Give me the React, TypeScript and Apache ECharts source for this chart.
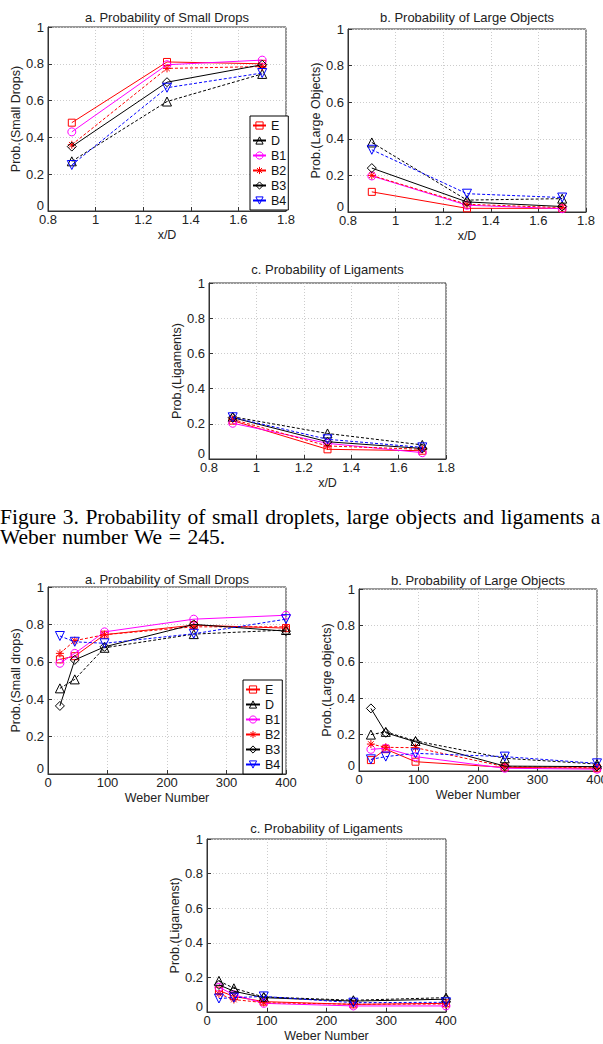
import React, { useEffect, useRef } from 'react';
import * as echarts from 'echarts';

// ---------- data ----------
const SERIES_NAMES = ['E', 'D', 'B1', 'B2', 'B3', 'B4'];
const XD_POSITIONS = [0.9, 1.3, 1.7];
const WEBER_NUMBERS = [20, 45, 95, 245, 400];

// rows follow SERIES_NAMES order: E, D, B1, B2, B3, B4
const smallDropsXD = [
  [0.48, 0.81, 0.8],
  [0.27, 0.595, 0.745],
  [0.43, 0.795, 0.82],
  [0.36, 0.775, 0.785],
  [0.35, 0.7, 0.795],
  [0.25, 0.67, 0.75],
];
const largeObjectsXD = [
  [0.11, 0.02, 0.02],
  [0.38, 0.065, 0.073],
  [0.197, 0.037, 0.018],
  [0.2, 0.042, 0.024],
  [0.24, 0.055, 0.03],
  [0.34, 0.1, 0.079],
];
const ligamentsXD = [
  [0.218, 0.055, 0.047],
  [0.24, 0.145, 0.08],
  [0.203, 0.089, 0.036],
  [0.225, 0.074, 0.055],
  [0.235, 0.098, 0.06],
  [0.237, 0.112, 0.066],
];
const smallDropsWe = [
  [0.613, 0.63, 0.745, 0.796, 0.78],
  [0.458, 0.506, 0.675, 0.748, 0.77],
  [0.592, 0.645, 0.76, 0.828, 0.849],
  [0.645, 0.713, 0.745, 0.787, 0.787],
  [0.364, 0.61, 0.68, 0.8, 0.764],
  [0.738, 0.707, 0.699, 0.75, 0.828],
];
const largeObjectsWe = [
  [0.06, 0.12, 0.051, 0.02, 0.015],
  [0.2, 0.215, 0.165, 0.07, 0.038],
  [0.119, 0.125, 0.079, 0.015, 0.01],
  [0.148, 0.13, 0.128, 0.024, 0.018],
  [0.344, 0.21, 0.16, 0.027, 0.024],
  [0.064, 0.079, 0.097, 0.079, 0.042],
];
const ligamentsWe = [
  [0.124, 0.09, 0.06, 0.044, 0.05],
  [0.18, 0.137, 0.087, 0.068, 0.083],
  [0.143, 0.1, 0.05, 0.035, 0.035],
  [0.105, 0.072, 0.054, 0.045, 0.046],
  [0.157, 0.12, 0.083, 0.063, 0.074],
  [0.078, 0.083, 0.09, 0.054, 0.056],
];

// ---------- styles ----------
const STAR = 'path://M5,0L5,10M0,5L10,5M1.5,1.5L8.5,8.5M1.5,8.5L8.5,1.5';
const SERIES_STYLE = [
  { color: '#ff0000', symbol: 'rect', size: 7, rotate: 0, dashed: false },
  { color: '#000000', symbol: 'triangle', size: 9, rotate: 0, dashed: true },
  { color: '#ff00ff', symbol: 'circle', size: 8, rotate: 0, dashed: false },
  { color: '#ff0000', symbol: STAR, size: 8, rotate: 0, dashed: true },
  { color: '#000000', symbol: 'diamond', size: 9, rotate: 0, dashed: false },
  { color: '#0000ff', symbol: 'triangle', size: 9, rotate: 180, dashed: true },
];

const FONT = '"Liberation Sans", Arial, Helvetica, sans-serif';

const PANELS = [
  { data: smallDropsXD, xs: XD_POSITIONS, grid: { left: 48, top: 27, width: 238, height: 184 }, xmin: 0.8, xmax: 1.8, xint: 0.2, xname: 'x/D', yname: 'Prob.(Small Drops)', title: 'a. Probability of Small Drops', titleY: 17 },
  { data: largeObjectsXD, xs: XD_POSITIONS, grid: { left: 348, top: 29, width: 238, height: 183 }, xmin: 0.8, xmax: 1.8, xint: 0.2, xname: 'x/D', yname: 'Prob.(Large Objects)', title: 'b. Probability of Large Objects', titleY: 17 },
  { data: ligamentsXD, xs: XD_POSITIONS, grid: { left: 209, top: 283, width: 237, height: 176 }, xmin: 0.8, xmax: 1.8, xint: 0.2, xname: 'x/D', yname: 'Prob.(Ligaments)', title: 'c. Probability of Ligaments', titleY: 269 },
  { data: smallDropsWe, xs: WEBER_NUMBERS, grid: { left: 48, top: 587, width: 238, height: 187 }, xmin: 0, xmax: 400, xint: 100, xname: 'Weber Number', yname: 'Prob.(Small drops)', title: 'a. Probability of Small Drops', titleY: 579 },
  { data: largeObjectsWe, xs: WEBER_NUMBERS, grid: { left: 359, top: 589, width: 238, height: 182 }, xmin: 0, xmax: 400, xint: 100, xname: 'Weber Number', yname: 'Prob.(Large objects)', title: 'b. Probability of Large Objects', titleY: 580 },
  { data: ligamentsWe, xs: WEBER_NUMBERS, grid: { left: 207, top: 839, width: 239, height: 173 }, xmin: 0, xmax: 400, xint: 100, xname: 'Weber Number', yname: 'Prob.(Ligamenst)', title: 'c. Probability of Ligaments', titleY: 828 },
];

function buildOption() {
  const AX = '#333';
  const grids: any[] = [];
  const xAxes: any[] = [];
  const yAxes: any[] = [];
  const series: any[] = [];
  const graphics: any[] = [];
  PANELS.forEach((p, pi) => {
    grids.push({
      ...p.grid, show: true, borderColor: AX, borderWidth: 1, backgroundColor: '#fff',
      containLabel: false, outerBoundsMode: 'none',
    });
    const common = {
      axisLine: { show: true, lineStyle: { color: AX, width: 1 } },
      axisTick: { show: true, inside: true, length: 4, lineStyle: { color: AX } },
      splitLine: { show: true, lineStyle: { color: '#cccccc', type: [1, 2], width: 1 } },
      nameTextStyle: { fontFamily: FONT, fontSize: 12.5, color: '#222' },
    };
    xAxes.push({
      ...common,
      type: 'value', gridIndex: pi, min: p.xmin, max: p.xmax, interval: p.xint,
      name: p.xname, nameLocation: 'middle', nameGap: 17, nameMoveOverlap: false,
      axisLabel: { fontFamily: FONT, fontSize: 13, color: '#222', margin: 2, showMinLabel: true, showMaxLabel: true },
    });
    yAxes.push({
      ...common,
      type: 'value', gridIndex: pi, min: 0, max: 1, interval: 0.2,
      name: p.yname, nameLocation: 'middle', nameGap: 17,
      axisLabel: {
        fontFamily: FONT, fontSize: 13, color: '#222', margin: 4, showMinLabel: true, showMaxLabel: true,
        formatter: (v: number) => (v === 0 ? '{z|0}' : String(v)),
        rich: { z: { fontFamily: FONT, fontSize: 13, color: '#222', padding: [0, 0, 11, 0] } },
      },
    });
    p.data.forEach((vals, si) => {
      const st = SERIES_STYLE[si];
      series.push({
        type: 'line',
        name: SERIES_NAMES[si],
        xAxisIndex: pi,
        yAxisIndex: pi,
        data: vals.map((v, i) => [p.xs[i], v]),
        symbol: st.symbol,
        symbolSize: st.size,
        symbolRotate: st.rotate,
        showAllSymbol: true,
        lineStyle: { color: st.color, width: 1, type: st.dashed ? [3, 2] : 'solid' },
        itemStyle: { color: 'rgba(255,255,255,0)', borderColor: st.color, borderWidth: 1 },
        emphasis: { disabled: true },
        z: 2 + si,
      });
    });
    graphics.push({
      type: 'text',
      x: p.grid.left + p.grid.width / 2,
      y: p.titleY,
      style: { text: p.title, fontFamily: FONT, fontSize: 13, fill: '#222', textAlign: 'center', textVerticalAlign: 'middle' },
    });
  });

  const legendBase = {
    orient: 'vertical',
    data: SERIES_NAMES,
    backgroundColor: '#fff',
    borderColor: '#000',
    borderWidth: 1,
    borderRadius: 0,
    itemGap: 2,
    itemHeight: 9,
    selectedMode: false,
    itemStyle: { color: 'rgba(255,255,255,0)', borderWidth: 1 },
    lineStyle: { type: 'solid' },
    textStyle: { fontFamily: FONT, fontSize: 12.5, color: '#111' },
    z: 20,
  };

  return {
    animation: false,
    backgroundColor: '#fff',
    grid: grids,
    xAxis: xAxes,
    yAxis: yAxes,
    series,
    legend: [
      { ...legendBase, left: 250, top: 116, itemWidth: 13, padding: [3, 2, 3, 2] },
      { ...legendBase, left: 243, top: 680, itemWidth: 14, padding: [3, 2, 3, 2] },
    ],
    graphic: graphics,
  };
}

const CAPTION = 'Figure 3. Probability of small droplets, large objects and ligaments a\nWeber number We = 245.';

export default function App() {
  const ref = useRef<HTMLDivElement>(null);
  useEffect(() => {
    if (!ref.current) return;
    const chart = echarts.init(ref.current, undefined, { renderer: 'svg' });
    chart.setOption(buildOption() as any);
    return () => chart.dispose();
  }, []);
  return (
    <div style={{ position: 'absolute', left: 0, top: 0, width: 603, height: 1044, overflow: 'hidden', background: '#fff' }}>
      <div ref={ref} style={{ position: 'absolute', left: 0, top: 0, width: 603, height: 1044 }} />
      <div
        style={{
          position: 'absolute', left: 0, top: 507, whiteSpace: 'pre',
          fontFamily: '"Liberation Serif", "Times New Roman", serif', fontSize: 21.5, lineHeight: '20px',
          color: '#000', wordSpacing: '1.2px',
        }}
      >
        {CAPTION}
      </div>
    </div>
  );
}
